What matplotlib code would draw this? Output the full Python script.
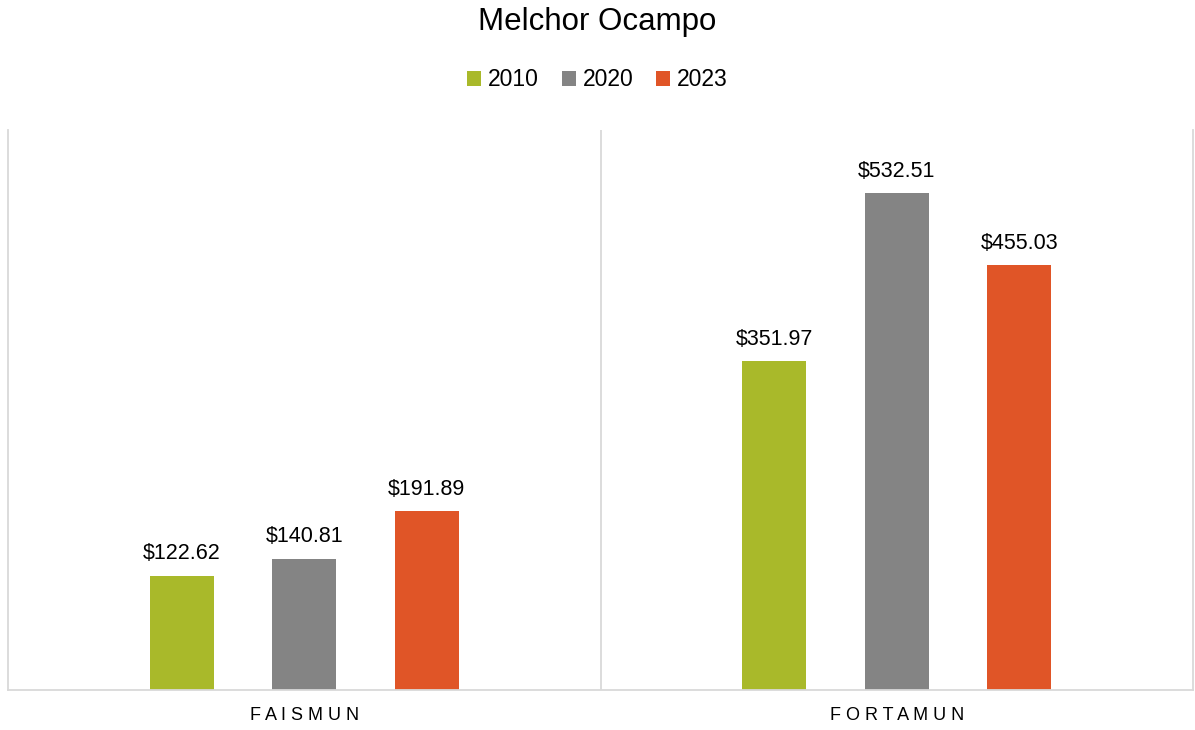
import matplotlib.pyplot as plt
import numpy as np

plt.rcParams['font.family'] = ['Liberation Sans', 'DejaVu Sans']

# datos
categorias = ['FAISMUN', 'FORTAMUN']
anios = ['2010', '2020', '2023']
v2010 = [122.62, 351.97]
v2020 = [140.81, 532.51]
v2023 = [191.89, 455.03]
colores = ['#A9B92A', '#848484', '#E05527']

fig = plt.figure(figsize=(11.95, 7.3), dpi=100)
ax = fig.add_axes([8 / 1195, 40 / 730, 1185 / 1195, 560 / 730])

x = np.arange(len(categorias))
ancho = 0.108
offs = [-0.207, 0, 0.207]
for serie, off, col, anio in zip([v2010, v2020, v2023], offs, colores, anios):
    barras = ax.bar(x + off, serie, ancho, color=col, label=anio, zorder=2)
    for b, v in zip(barras, serie):
        ax.annotate(f'${v:,.2f}', (b.get_x() + b.get_width() / 2, v),
                    xytext=(0, 8), textcoords='offset points',
                    ha='center', va='bottom', fontsize=15.5, color='#000000')

ax.set_xlim(-0.5, 1.5)
ax.set_ylim(0, 600)
ax.set_yticks([])
ax.set_xticks(x)
ax.set_xticklabels([' '.join(c) for c in categorias], fontsize=13)
ax.tick_params(axis='x', length=0, pad=12)
ax.axvline(0.5, color='#D9D9D9', lw=1.3, zorder=1)
for s in ['left', 'right', 'bottom']:
    ax.spines[s].set_color('#D9D9D9')
    ax.spines[s].set_linewidth(1.3)
ax.spines['top'].set_visible(False)

fig.text(0.5, 1 - 22 / 730, 'Melchor Ocampo', ha='center', va='center', fontsize=22.5)
fig.legend(loc='center', bbox_to_anchor=(0.5, 1 - 80 / 730), ncol=3, frameon=False,
           fontsize=16.5, handlelength=0.6, handleheight=0.6, handletextpad=0.3,
           columnspacing=1.0)

plt.savefig('out.png', dpi=100)
